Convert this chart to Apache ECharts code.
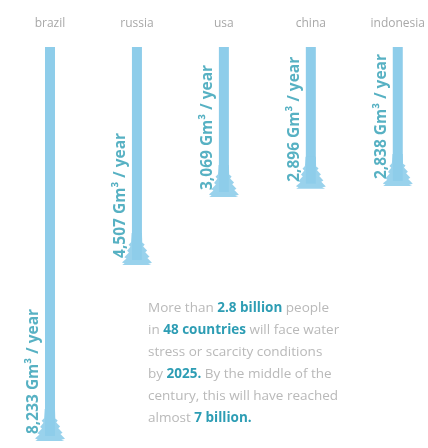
<!DOCTYPE html>
<html>
<head>
<meta charset="utf-8">
<script src="https://cdn.jsdelivr.net/npm/echarts@6/dist/echarts.min.js"></script>
<style>
html,body{margin:0;padding:0;background:#fff;}
#chart{width:428px;height:448px;}
</style>
</head>
<body>
<div id="chart"></div>
<script>
var categories = ['brazil', 'russia', 'usa', 'china', 'indonesia'];
var values = [8233, 4507, 3069, 2896, 2838];
var unit = ' Gm\u00b3 / year';
var noteLines = [
  'More than {b|2.8 billion} people',
  'in {b|48 countries} will face water',
  'stress or scarcity conditions',
  'by {b|2025.} By the middle of the',
  'century, this will have reached',
  'almost {b|7 billion.}'
];

var BAR = '#8ecdea';
var TEAL = '#2d9db4';
var splash = 'path://M33,0 L67,0 L68,30 L76,36 L71,42 L84,55 L78,60 L92,74 L85,78 L100,93 L88,96 L98,100 L2,100 L10,95 L1,92 L16,80 L9,76 L24,61 L18,56 L29,43 L23,37 L31,29 Z';

function fmt(v) {
  return String(v).replace(/\B(?=(\d{3})+(?!\d))/g, ',');
}

var chart = echarts.init(document.getElementById('chart'), null, {renderer: 'canvas'});
chart.setOption({
  animation: false,
  backgroundColor: '#fff',
  title: {
    text: noteLines.join('\n'),
    left: 143,
    top: 292,
    textStyle: {
      color: '#b9b9b9',
      fontFamily: 'Open Sans',
      fontWeight: 'normal',
      fontSize: 13.5,
      lineHeight: 22,
      rich: {
        b: {color: TEAL, fontWeight: 'bold', fontFamily: 'Open Sans', fontSize: 13.5, lineHeight: 22}
      }
    }
  },
  grid: {left: 50, right: 30, top: 47, bottom: 12},
  xAxis: {
    type: 'category',
    data: categories,
    position: 'top',
    boundaryGap: false,
    axisLine: {show: false},
    axisTick: {show: false},
    splitLine: {show: false},
    axisLabel: {color: '#a8a8a8', fontFamily: 'Open Sans', fontSize: 12, margin: 17}
  },
  yAxis: {
    type: 'value',
    inverse: true,
    min: 0,
    max: 'dataMax',
    show: false
  },
  series: [
    {
      type: 'bar',
      data: values,
      barWidth: 10,
      itemStyle: {color: BAR},
      z: 2
    },
    {
      type: 'scatter',
      data: values,
      symbol: splash,
      symbolSize: [30, 32],
      symbolOffset: [0, -11],
      itemStyle: {color: BAR, opacity: 0.9},
      z: 3,
      label: {show: false}
    },
    {
      type: 'scatter',
      data: values,
      symbolSize: 1,
      itemStyle: {color: 'rgba(0,0,0,0)'},
      z: 4,
      label: {
        show: true,
        position: 'inside',
        rotate: 90,
        align: 'left',
        verticalAlign: 'bottom',
        offset: [2, -8],
        color: TEAL,
        fontFamily: 'Open Sans',
        fontWeight: 'bold',
        fontSize: 15.5,
        formatter: function (p) { return fmt(p.value) + unit; }
      }
    }
  ]
});
</script>
</body>
</html>
